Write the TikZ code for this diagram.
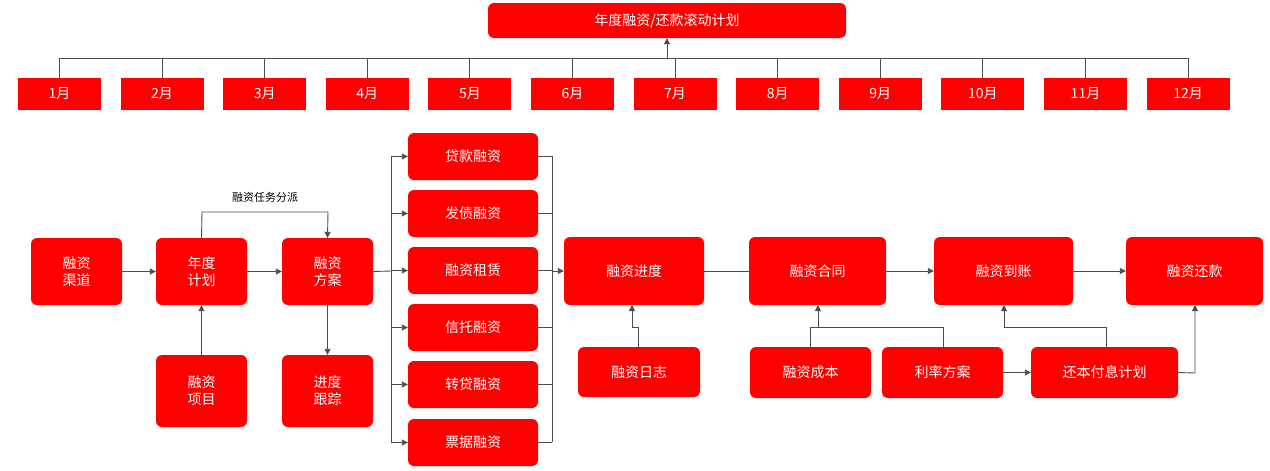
\documentclass[tikz,border=0pt]{standalone}
\usepackage{fontspec}
\setmainfont{Noto Sans CJK SC}
\usetikzlibrary{arrows.meta}
\begin{document}
\begin{tikzpicture}[x=1pt,y=-1pt,
 bx/.style={fill=red,rounded corners=6pt,text=white,font=\fontsize{14}{17}\selectfont,align=center,inner sep=0pt},
 ln/.style={draw=black!70,line width=0.9pt},
 ar/.style={ln,-{Triangle[length=6pt,width=6pt]}}]
\useasboundingbox (0,0) rectangle (1270,471);
\newcommand\bxat[5]{\node[bx,minimum width=#3-#2,minimum height=#5-#4] (#1) at ({(#2+#3)/2},{(#4+#5)/2})}
\bxat{top}{488}{846}{3}{38} {年度融资/还款滚动计划};
\foreach \i in {1,...,12}{
 \pgfmathsetmacro\cx{59.5+102.6*(\i-1)}
 \node[bx,rounded corners=0pt,minimum width=83,minimum height=32] (m\i) at (\cx,94) {\i 月};
 \draw[ln] (m\i.north) -- (\cx,58);
}
\draw[ln] (m1.north|-0,58) -- (m12.north|-0,58);
\draw[ar] (top.south|-0,58) -- (top.south);
\bxat{qd}{31}{122}{238}{305} {融资\\渠道};
\bxat{nd}{156}{247}{238}{305} {年度\\计划};
\bxat{fa}{282}{373}{238}{305} {融资\\方案};
\bxat{xm}{156}{247}{355}{427} {融资\\项目};
\bxat{gz}{282}{373}{355}{427} {进度\\跟踪};
\bxat{b1}{408}{538}{133}{180} {贷款融资};
\bxat{b2}{408}{538}{190}{237} {发债融资};
\bxat{b3}{408}{538}{247}{294} {融资租赁};
\bxat{b4}{408}{538}{304}{351} {信托融资};
\bxat{b5}{408}{538}{361}{408} {转贷融资};
\bxat{b6}{408}{538}{419}{466} {票据融资};
\bxat{jd}{564}{704}{237}{305} {融资进度};
\bxat{rz}{578}{700}{347}{397} {融资日志};
\bxat{ht}{749}{886}{237}{305} {融资合同};
\bxat{dz}{934}{1073}{237}{305} {融资到账};
\bxat{hk}{1126}{1263}{237}{305} {融资还款};
\bxat{cb}{750}{871}{347}{398} {融资成本};
\bxat{ll}{882}{1003}{347}{398} {利率方案};
\bxat{hb}{1031}{1178}{347}{398} {还本付息计划};
\draw[ar] (qd) -- (nd);
\draw[ar] (nd) -- (fa);
\draw[ar] (xm) -- (nd);
\draw[ar] (fa) -- (gz);
\draw[ar] (nd.north) -- (202,212) -- node[above=6pt,text=black,font=\fontsize{11}{13}\selectfont]{融资任务分派} (328,212) -- (fa.north);
\draw[ln] (fa.east) -- (391,271);
\draw[ln] (391,156) -- (391,442);
\foreach \k in {1,...,6}{
 \draw[ar] (391,0|-b\k.west) -- (b\k.west);
 \draw[ln] (b\k.east) -- (552,0|-b\k.east);
}
\draw[ln] (552,156) -- (552,442);
\draw[ar] (552,271) -- (jd.west);
\draw[ar] (rz.north-|638,0) -- (638,327) -- (632,327) -- (632,305);
\draw[ln] (jd) -- (ht);
\draw[ar] (ht) -- (dz);
\draw[ar] (dz) -- (hk);
\draw[ln] (cb.north-|810,0) -- (810,327) -- (943,327) -- (ll.north-|943,0);
\draw[ar] (818,327) -- (818,305);
\draw[ar] (hb.north-|1106,0) -- (1106,327) -- (1004,327) -- (1004,305);
\draw[ar] (ll) -- (hb);
\draw[ar] (hb.east) -- (1195,373) -- (1195,305);
\end{tikzpicture}
\end{document}
